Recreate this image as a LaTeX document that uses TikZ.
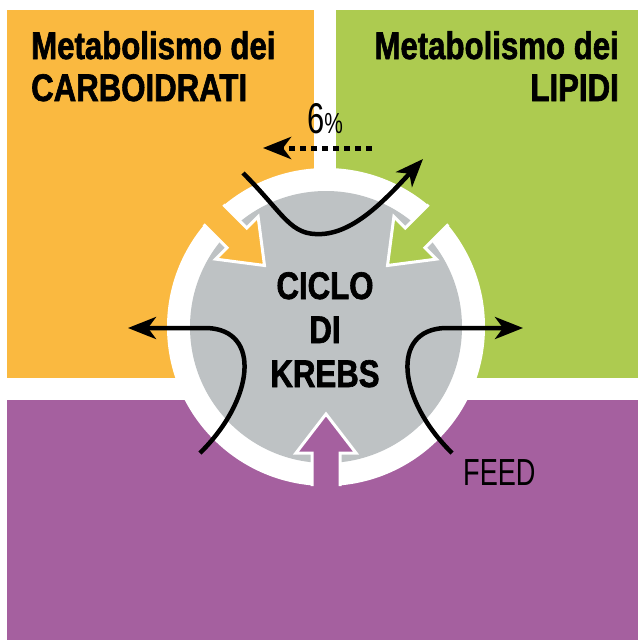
\documentclass[tikz,border=0pt]{standalone}
\usepackage{fontspec}
\setmainfont{Liberation Sans}
\newfontfamily\condbold[FakeStretch=0.81, FakeBold=1.6]{Liberation Sans}
\newfontfamily\condreg[FakeStretch=0.72]{Liberation Sans}
\usetikzlibrary{arrows.meta}
\definecolor{carbo}{HTML}{FAB940}
\definecolor{lipid}{HTML}{ADCB50}
\definecolor{prot}{HTML}{A5609F}
\definecolor{krebsgray}{HTML}{BEC2C4}
\begin{document}
\begin{tikzpicture}[x=1pt,y=-1pt,
  flow/.style={line width=4.5pt, -{Stealth[length=28pt,width=22pt,inset=8pt]}},
  title/.style={inner sep=0pt, font=\condbold\bfseries\fontsize{38.5}{40}\selectfont},
  plain/.style={inner sep=0pt, font=\condreg\fontsize{37.7}{40}\selectfont}]
\useasboundingbox (0,0) rectangle (638,640);
\fill[white] (0,0) rectangle (638,640);
% quadrants
\fill[carbo] (7,10) rectangle (314,378);
\fill[lipid] (336,10) rectangle (638,378);
\fill[prot] (7,400) rectangle (638,640);
% ring and disc
\fill[white] (326,327) circle[radius=159];
\fill[krebsgray] (326,327) circle[radius=136];
% coloured inward arrows
\foreach \ang/\col in {225/carbo,315/lipid,90/prot}{
  \begin{scope}[shift={(326,327)}, rotate=-\ang]
    \fill[\col] (205,-14) -- (126,-14) -- (126,-30) -- (87,0) -- (126,30) -- (126,14) -- (205,14) -- cycle;
    \draw[white, line width=3pt, line join=miter] (159,-14) -- (126,-14) -- (126,-30) -- (87,0) -- (126,30) -- (126,14) -- (159,14);
  \end{scope}
}
% black flows
\draw[flow] (243,173) .. controls (285,215) and (290,236) .. (322,234) .. controls (355,232) and (385,200) .. (423,159);
\draw[flow] (200,453) .. controls (254,400) and (262,330) .. (207,328) -- (128,328);
\draw[flow] (452,453) .. controls (398,400) and (390,330) .. (445,328) -- (523,328);
\draw[flow, line width=5pt, dash pattern=on 6pt off 5pt] (372,148) -- (263,148);
% texts
\node[title, anchor=base west] (cA) at (31,59) {Metabolismo dei};
\node[title, anchor=base west] (cB) at (31,101) {CARBOIDRATI};
\node[title, anchor=base east] (lA) at (619,59) {Metabolismo dei};
\node[title, anchor=base east] (lB) at (619,101) {LIPIDI};
\node[title, anchor=base] (k1) at (325,299) {CICLO};
\node[title, anchor=base] (k2) at (325,343) {DI};
\node[title, anchor=base] (k3) at (325,387) {KREBS};
\node[inner sep=0pt, anchor=base west, font=\condreg\fontsize{43}{45}\selectfont] (pct) at (307,133) {6{\fontsize{29}{30}\selectfont\%}};
\node[plain, anchor=base west] (feed) at (463,485) {FEED};
\end{tikzpicture}
\end{document}
